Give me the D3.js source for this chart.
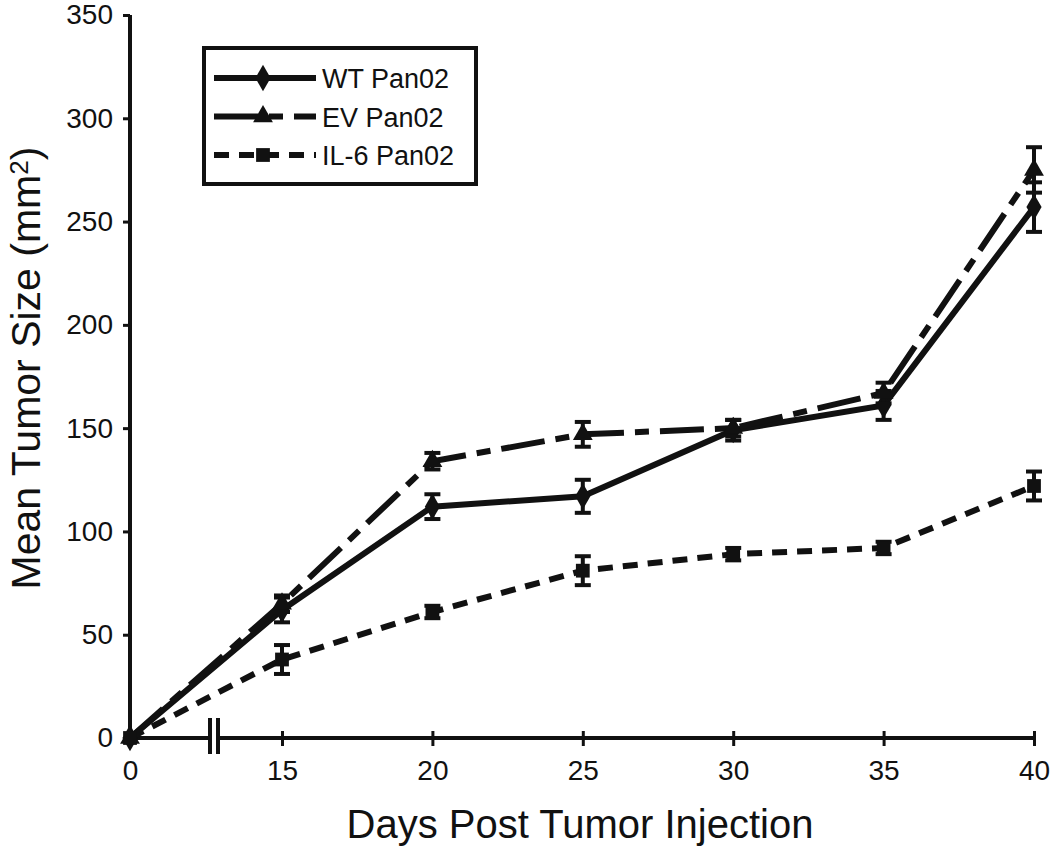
<!DOCTYPE html>
<html><head><meta charset="utf-8">
<script src="https://cdn.jsdelivr.net/npm/d3@7/dist/d3.min.js"></script>
<style>body{margin:0;background:#fff}svg{display:block}text{font-family:"Liberation Sans",Arial,sans-serif;fill:#111}</style>
</head><body><svg id="c" width="1050" height="854"></svg>
<script>
const days = [0, 15, 20, 25, 30, 35, 40];
const xTicks = [0, 15, 20, 25, 30, 35, 40];
const yTicks = [0, 50, 100, 150, 200, 250, 300, 350];
const seriesNames = ["WT Pan02", "EV Pan02", "IL-6 Pan02"];
const wtMean = [0, 62, 112, 117, 149, 161, 257];
const wtErr  = [0, 6, 6, 8, 5, 7, 12];
const evMean = [0, 65, 134, 147, 150, 167, 275];
const evErr  = [0, 4, 4, 6, 4, 5, 11];
const il6Mean = [0, 38, 61, 81, 89, 92, 122];
const il6Err  = [0, 7, 3, 7, 3, 3, 7];

const svg = d3.select("#c");
const x = d3.scaleLinear().domain([0, 15, 40]).range([130, 282, 1034]);
const y = d3.scaleLinear().domain([0, 350]).range([738, 15]);

const series = [
  {name: seriesNames[0], mean: wtMean, err: wtErr, dash: null, sym: d3.symbolDiamond, size: 200},
  {name: seriesNames[1], mean: evMean, err: evErr, dash: "44,11,14,11", sym: d3.symbolTriangle, size: 170},
  {name: seriesNames[2], mean: il6Mean, err: il6Err, dash: "15,10", sym: d3.symbolSquare, size: 190}
];

// axes
const yAxis = d3.axisLeft(y).tickValues(yTicks).tickSize(7).tickPadding(10);
const gy = svg.append("g").attr("transform", "translate(130,0)").call(yAxis);
gy.select(".domain").attr("stroke", "#111").attr("stroke-width", 4).attr("d", "M0," + y(350) + "V" + y(0));
gy.selectAll(".tick line").attr("stroke", "#111").attr("stroke-width", 3);
gy.selectAll(".tick text").style("font-size", "28px").attr("fill", "#111");

const xAxis = d3.axisBottom(x).tickValues(xTicks).tickSize(0).tickPadding(22);
const gx = svg.append("g").attr("transform", "translate(0," + y(0) + ")").call(xAxis);
gx.select(".domain").attr("stroke", "#111").attr("stroke-width", 4).attr("d", "M130,0H1034");
gx.selectAll(".tick text").style("font-size", "28px").attr("fill", "#111");
gx.selectAll(".tick").filter(d => d > 0).append("line")
  .attr("y1", -7).attr("y2", 8).attr("stroke", "#111").attr("stroke-width", 3);
// axis break
const bx = 210;
svg.append("rect").attr("x", bx).attr("y", y(0) - 5).attr("width", 8).attr("height", 10).attr("fill", "#fff");
[bx, bx + 8].forEach(v => svg.append("line").attr("x1", v).attr("x2", v)
  .attr("y1", y(0) - 20).attr("y2", y(0) + 16).attr("stroke", "#111").attr("stroke-width", 4));

// series
const line = d3.line().x((d, i) => x(days[i])).y(d => y(d));
series.forEach(s => {
  svg.append("path").attr("d", line(s.mean)).attr("fill", "none").attr("stroke", "#111")
    .attr("stroke-width", 6).attr("stroke-dasharray", s.dash);
});
series.forEach(s => {
  const g = svg.append("g");
  s.mean.forEach((m, i) => {
    if (s.err[i] > 0) {
      const cx = x(days[i]), t = y(m + s.err[i]), b = y(m - s.err[i]);
      g.append("line").attr("x1", cx).attr("x2", cx).attr("y1", t).attr("y2", b).attr("stroke", "#111").attr("stroke-width", 4);
      [t, b].forEach(v => g.append("line").attr("x1", cx - 8).attr("x2", cx + 8).attr("y1", v).attr("y2", v).attr("stroke", "#111").attr("stroke-width", 4));
    }
    g.append("path").attr("d", d3.symbol().type(s.sym).size(s.size)())
      .attr("transform", "translate(" + x(days[i]) + "," + y(m) + ")").attr("fill", "#111");
  });
});

// legend
const lg = svg.append("g");
lg.append("rect").attr("x", 204).attr("y", 48).attr("width", 272).attr("height", 136)
  .attr("fill", "#fff").attr("stroke", "#111").attr("stroke-width", 4);
series.forEach((s, i) => {
  const yy = 78 + i * 38.5;
  lg.append("line").attr("x1", 214).attr("x2", 316).attr("y1", yy).attr("y2", yy)
    .attr("stroke", "#111").attr("stroke-width", 6).attr("stroke-dasharray", s.dash);
  lg.append("path").attr("d", d3.symbol().type(s.sym).size(s.size)())
    .attr("transform", "translate(263," + yy + ")").attr("fill", "#111");
  lg.append("text").attr("x", 322).attr("y", yy + 10).style("font-size", "27px").text(s.name);
});

// titles
svg.append("text").attr("x", 580).attr("y", 838).attr("text-anchor", "middle").style("font-size", "40px")
  .text("Days Post Tumor Injection");
const yt = svg.append("text").attr("transform", "translate(40,368) rotate(-90)").attr("text-anchor", "middle").style("font-size", "41px");
yt.append("tspan").text("Mean Tumor Size (mm");
yt.append("tspan").attr("dy", -12).style("font-size", "26px").text("2");
yt.append("tspan").attr("dy", 12).text(")");
</script></body></html>
